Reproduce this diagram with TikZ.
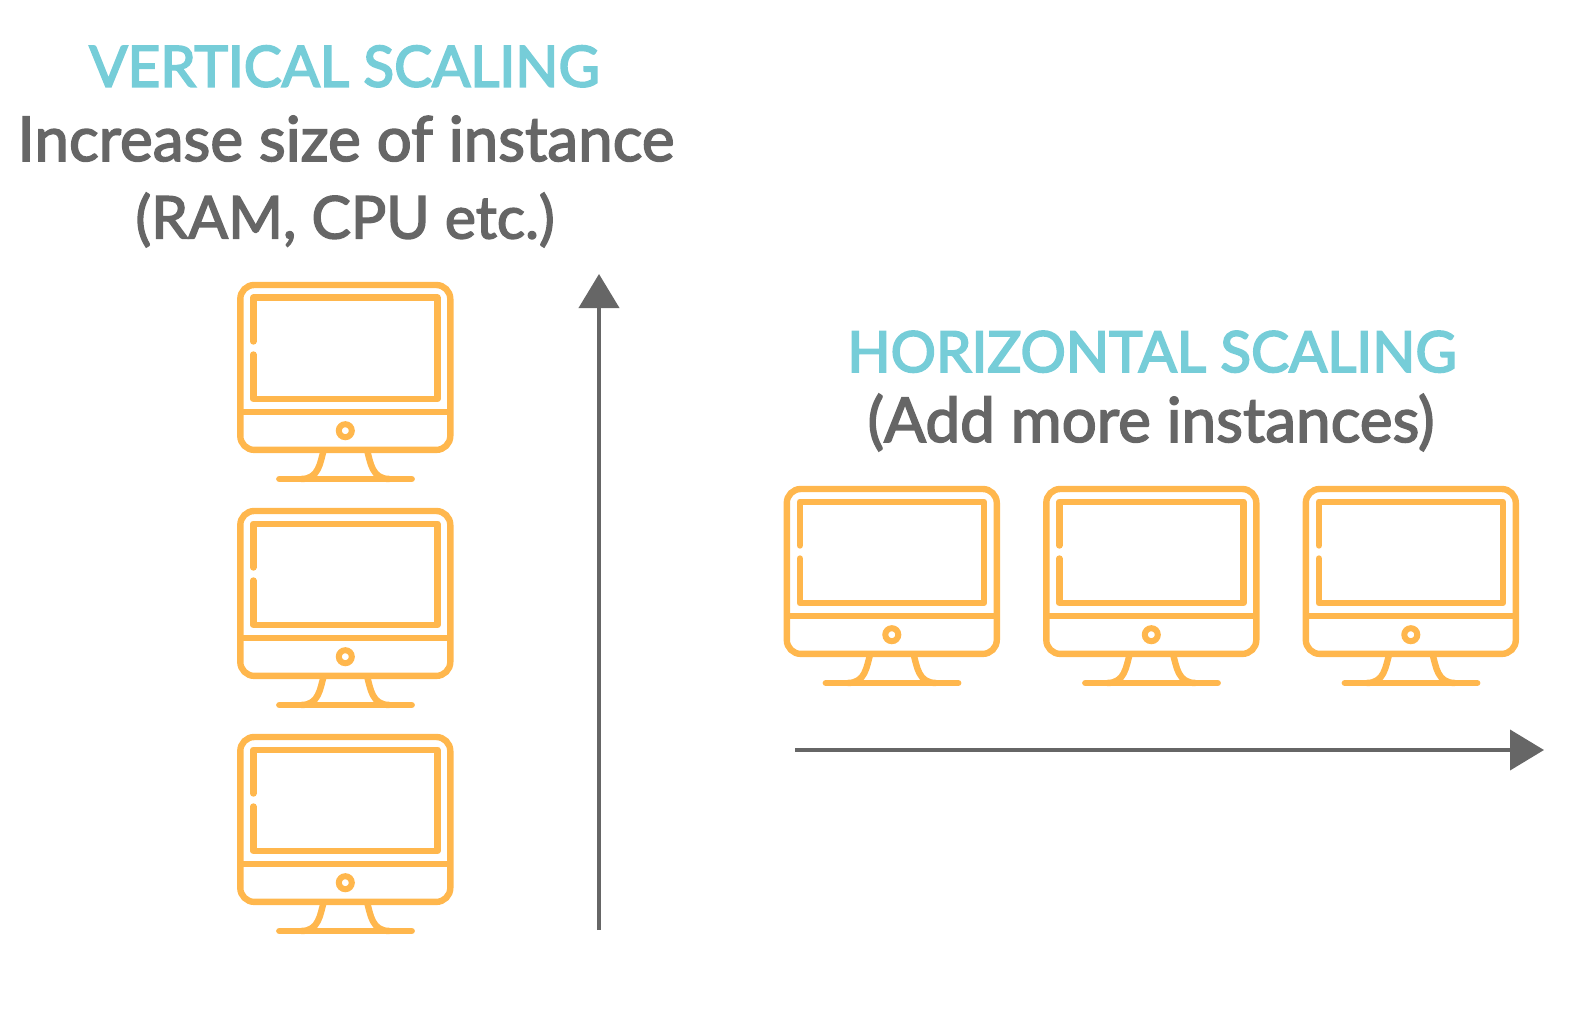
\documentclass[tikz,border=0pt]{standalone}
\usepackage{fontspec}
\setmainfont{Lato}[FakeBold=2.5]
\newfontfamily\titlefont{Lato}[FakeBold=3.2]
\usetikzlibrary{arrows.meta}
\definecolor{tealc}{HTML}{76CDD8}
\definecolor{grayc}{HTML}{666666}
\definecolor{orangec}{HTML}{FFB74D}
\tikzset{
  x=1pt,y=-1pt,
  titletext/.style={anchor=base,inner sep=0pt,text=tealc,font=\titlefont\fontsize{56.6}{57}\selectfont},
  bodytext/.style={anchor=base,inner sep=0pt,text=grayc,font=\fontsize{62}{62}\selectfont},
  ramtext/.style={anchor=base,inner sep=0pt,text=grayc,font=\fontsize{59}{59}\selectfont},
  icon/.style={draw=orangec,line width=6.4pt,fill=none},
  iconround/.style={icon,line cap=round,line join=round},
  axisline/.style={draw=grayc,line width=4pt,-{Triangle[length=34pt,width=40pt,fill=grayc]}},
  pics/monitor/.style={code={
    \draw[icon,rounded corners=14pt] (240.3,285) rectangle (450.3,449.9);
    \draw[iconround] (253.3,341.5) -- (253.3,297.7) -- (437.3,297.7) -- (437.3,399) -- (253.3,399) -- (253.3,354.5);
    \draw[icon] (240.3,411.7) -- (450.3,411.7);
    \draw[draw=orangec,line width=6pt] (345.3,430.7) circle (6.5pt);
    \draw[iconround] (279.3,479) -- (411.7,479);
    \draw[icon] (324,449) .. controls (320,463) and (319,479) .. (301,479);
    \draw[icon] (366.7,449) .. controls (370.7,463) and (371.7,479) .. (389.7,479);
  }}
}
\begin{document}
\begin{tikzpicture}
\useasboundingbox (0,0) rectangle (1575,1019);
\node[titletext] (vt) at (344.5,86.6) {VERTICAL SCALING};
\node[bodytext] (v1) at (346,161) {Increase size of instance};
\node[ramtext] (v2) at (345,238.5) {(RAM, CPU etc.)};
\node[titletext] (ht) at (1152,372) {HORIZONTAL SCALING};
\node[bodytext] (h1) at (1151,442) {(Add more instances)};
\pic at (0,0) {monitor};
\pic at (0,226) {monitor};
\pic at (0,452) {monitor};
\pic at (546.5,204) {monitor};
\pic at (806,204) {monitor};
\pic at (1065.5,204) {monitor};
\coordinate (va) at (599,930);
\coordinate (vb) at (599,274);
\coordinate (ha) at (795,750);
\coordinate (hb) at (1544,750);
\draw[axisline] (va) -- (vb);
\draw[axisline] (ha) -- (hb);
\end{tikzpicture}
\end{document}
